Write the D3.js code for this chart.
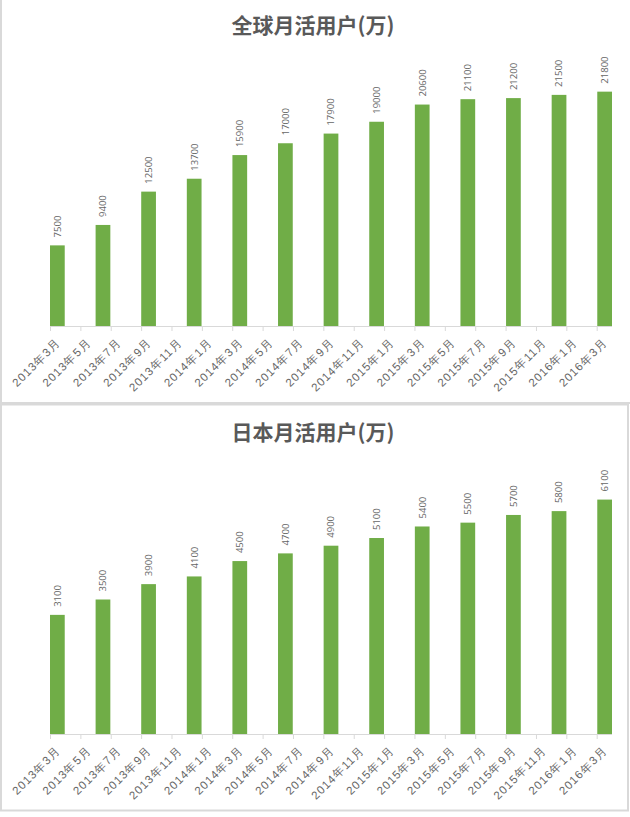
<!DOCTYPE html>
<html lang="zh">
<head>
<meta charset="utf-8">
<title>月活用户</title>
<script src="https://d3js.org/d3.v7.min.js"></script>
<style>
  body { margin: 0; background: #fff; }
  svg { display: block; font-family: "Open Sans", "Noto Sans CJK SC", sans-serif; }
</style>
</head>
<body>
<script>
// bars: 13 values per chart
const globalUsers = [7500, 9400, 12500, 13700, 15900, 17000, 17900, 19000, 20600, 21100, 21200, 21500, 21800];
const japanUsers = [3100, 3500, 3900, 4100, 4500, 4700, 4900, 5100, 5400, 5500, 5700, 5800, 6100];
// axis shows 19 month labels
const monthLabels = ["2013年3月", "2013年5月", "2013年7月", "2013年9月", "2013年11月",
  "2014年1月", "2014年3月", "2014年5月", "2014年7月", "2014年9月", "2014年11月",
  "2015年1月", "2015年3月", "2015年5月", "2015年7月", "2015年9月", "2015年11月",
  "2016年1月", "2016年3月"];
const titles = ["全球月活用户(万)", "日本月活用户(万)"];

const W = 630, H = 817;
const svg = d3.select("body").append("svg").attr("width", W).attr("height", H);

// panel frames
svg.append("rect").attr("x", 1).attr("y", -3).attr("width", 660).attr("height", 406)
  .attr("fill", "none").attr("stroke", "#d9d9d9").attr("stroke-width", 2);
svg.append("rect").attr("x", 1).attr("y", 404.5).attr("width", 627).attr("height", 406)
  .attr("fill", "none").attr("stroke", "#d9d9d9").attr("stroke-width", 2);

function drawChart(values, title, base, titleY, yMax, yTop) {
  const g = svg.append("g");

  const x = d3.scaleBand()
    .domain(d3.range(values.length))
    .range([50, 612])
    .paddingInner(0.677)
    .paddingOuter(0)
    .align(0);

  const y = d3.scaleLinear().domain([0, yMax]).range([base, yTop]);

  const xl = d3.scalePoint().domain(monthLabels).range([50, 596.7]);

  g.append("text")
    .attr("x", 313).attr("y", titleY)
    .attr("text-anchor", "middle")
    .attr("font-size", 21).attr("font-weight", "bold")
    .attr("font-family", "'Noto Sans CJK SC', sans-serif")
    .attr("fill", "#595959")
    .text(title);

  g.selectAll("rect.bar").data(values).join("rect")
    .attr("class", "bar")
    .attr("x", (d, i) => x(i))
    .attr("width", x.bandwidth())
    .attr("y", d => y(d))
    .attr("height", d => base - y(d))
    .attr("fill", "#70ad47");

  g.selectAll("text.val").data(values).join("text")
    .attr("class", "val")
    .attr("transform", (d, i) => "translate(" + (x(i) + x.bandwidth() / 2) + "," + (y(d) - 8) + ") rotate(-90)")
    .attr("dy", "0.35em")
    .attr("font-size", 9.5)
    .attr("fill", "#666")
    .text(d => d);

  // axis
  const axis = g.append("g")
    .attr("transform", "translate(0," + base + ")")
    .call(d3.axisBottom(xl).tickSize(5).tickSizeOuter(0));
  axis.select(".domain").remove();
  axis.selectAll(".tick line").attr("stroke", "#d9d9d9");
  axis.selectAll(".tick text")
    .attr("x", 0).attr("y", 0).attr("dy", 0)
    .attr("transform", "translate(11,17) rotate(-45)")
    .attr("text-anchor", "end")
    .attr("font-size", 11.5)
    .attr("letter-spacing", 1)
    .attr("fill", "#666");

  g.append("line")
    .attr("x1", 50).attr("x2", 612)
    .attr("y1", base + 0.5).attr("y2", base + 0.5)
    .attr("stroke", "#d9d9d9");
}

drawChart(globalUsers, titles[0], 326, 33, 24000, 68);
drawChart(japanUsers, titles[1], 734, 440, 7000, 465);
</script>
</body>
</html>
